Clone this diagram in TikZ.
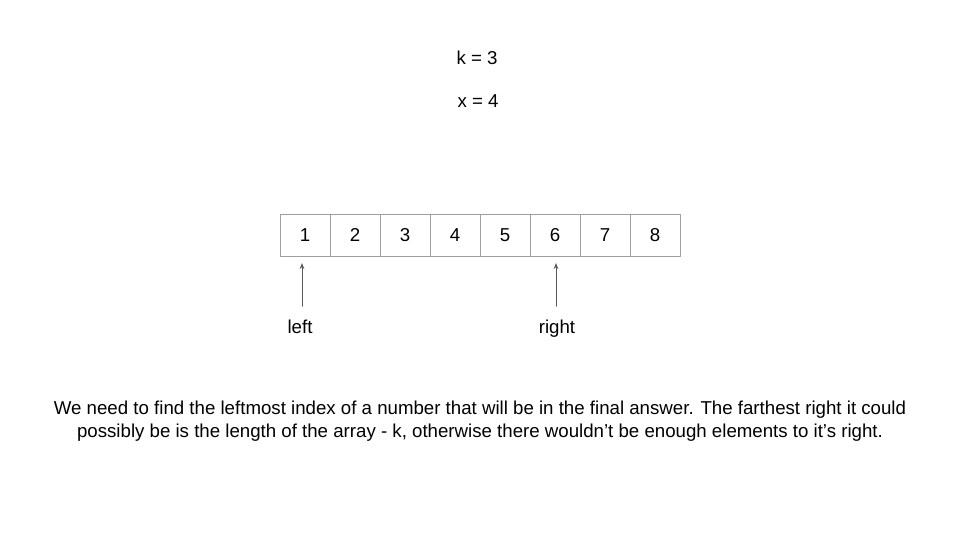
\documentclass[tikz,border=0pt]{standalone}
\usepackage{fontspec}
\setmainfont{Liberation Sans}
\usetikzlibrary{arrows.meta}
\definecolor{cellgray}{HTML}{9E9E9E}
\definecolor{arrowgray}{HTML}{595959}
\begin{document}
\begin{tikzpicture}[x=0.75pt,y=-0.75pt,line cap=round,line join=round,font=\fontsize{14}{17.25}\selectfont,
  cell/.style={draw=cellgray,line width=0.75pt,minimum width=37.5pt,minimum height=31.5pt,inner sep=0pt,outer sep=0pt},
  pointer/.style={draw=arrowgray,line width=0.75pt,-{Stealth[length=4.5pt,width=3.5pt]}}]
  \useasboundingbox (0,0) rectangle (960,540);
  \node (kval) at (477,58) {k = 3};
  \node (xval) at (478,101) {x = 4};
  \foreach \n in {1,...,8}
    \node[cell] (c\n) at (255+50*\n,235) {\n};
  \node[anchor=base] (lefttxt) at (300,333) {left};
  \node[anchor=base] (righttxt) at (557,333) {right};
  \coordinate (lbase) at (302,306);
  \coordinate (ltip) at (302,263);
  \coordinate (rbase) at (556,306);
  \coordinate (rtip) at (556,263);
  \draw[pointer] (lbase) -- (ltip);
  \draw[pointer] (rbase) -- (rtip);
  \node[align=center] (note) at (480,421.5) {We need to find the leftmost index of a number that will be in the final answer. The farthest right it could\\possibly be is the length of the array - k, otherwise there wouldn’t be enough elements to it’s right.};
\end{tikzpicture}
\end{document}
